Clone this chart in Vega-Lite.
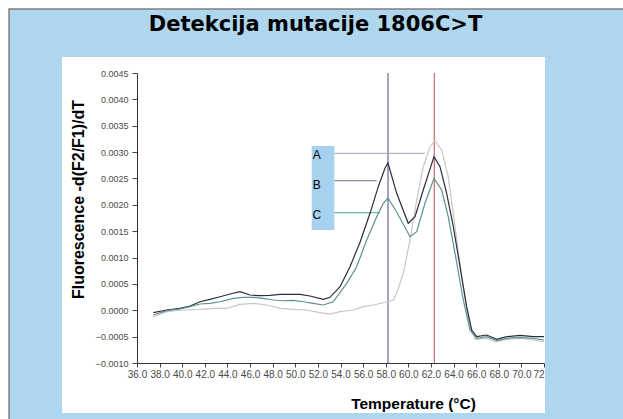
{
  "$schema": "https://vega.github.io/schema/vega-lite/v6.json",
  "width": 407,
  "height": 290,
  "autosize": {"type": "none"},
  "padding": {"left": 137, "top": 73, "right": 79, "bottom": 56},
  "background": "white",
  "title": {"text": "Detekcija mutacije 1806C>T", "font": "DejaVu Sans", "fontSize": 21, "fontWeight": "bold", "color": "black", "anchor": "middle", "frame": "group", "dx": -25, "offset": -27},
  "config": {
    "view": {"stroke": null},
    "axis": {"grid": false, "labelFlush": false, "labelOverlap": false, "labelFont": "Liberation Sans", "labelColor": "#4a4a4a", "tickColor": "#444444", "domainColor": "#333333", "titleFont": "Liberation Sans", "titleFontWeight": "bold", "titleColor": "black", "titleAlign": "center", "titleBaseline": "middle"},
    "axisX": {"labelFontSize": 10, "labelPadding": 2, "tickSize": 4, "titleFontSize": 15.5, "titleX": 276, "titleY": 40},
    "axisY": {"labelFontSize": 9, "labelPadding": 4, "tickSize": 5, "titleFontSize": 16, "titleX": -59, "titleY": 126, "titleAngle": -90}
  },
  "datasets": {
    "curves": [
      {"s":"A","t":37.44,"v":-0.000122},{"s":"A","t":38.63,"v":-0.000027},{"s":"A","t":40.10,"v":0.000005},{"s":"A","t":41.57,"v":0.000018},{"s":"A","t":42.75,"v":0.000037},{"s":"A","t":43.93,"v":0.000037},{"s":"A","t":45.11,"v":0.000113},{"s":"A","t":46.29,"v":0.000132},{"s":"A","t":47.47,"v":0.0001},{"s":"A","t":48.65,"v":0.000037},{"s":"A","t":49.82,"v":0.000018},{"s":"A","t":51.01,"v":0.000005},{"s":"A","t":52.19,"v":-0.000046},{"s":"A","t":53.07,"v":-0.000071},{"s":"A","t":53.96,"v":-0.000027},{"s":"A","t":55.13,"v":0.000005},{"s":"A","t":56.02,"v":0.000068},{"s":"A","t":56.90,"v":0.0001},{"s":"A","t":58.20,"v":0.000162},{"s":"A","t":58.67,"v":0.000195},{"s":"A","t":58.97,"v":0.000322},{"s":"A","t":59.55,"v":0.000701},{"s":"A","t":60.15,"v":0.001333},{"s":"A","t":60.74,"v":0.002091},{"s":"A","t":61.32,"v":0.002723},{"s":"A","t":61.92,"v":0.003102},{"s":"A","t":62.36,"v":0.00321},{"s":"A","t":62.95,"v":0.00304},{"s":"A","t":63.53,"v":0.002533},{"s":"A","t":64.13,"v":0.001585},{"s":"A","t":64.72,"v":0.000637},{"s":"A","t":65.30,"v":-0.000185},{"s":"A","t":65.90,"v":-0.000551},{"s":"A","t":66.93,"v":-0.000532},{"s":"A","t":67.81,"v":-0.000596},{"s":"A","t":68.70,"v":-0.000551},{"s":"A","t":69.88,"v":-0.000532},{"s":"A","t":71.05,"v":-0.000564},{"s":"A","t":72.0,"v":-0.000596},
      {"s":"B","t":37.44,"v":-0.000046},{"s":"B","t":38.63,"v":0.000005},{"s":"B","t":39.80,"v":0.000037},{"s":"B","t":40.69,"v":0.000081},{"s":"B","t":41.57,"v":0.000162},{"s":"B","t":42.46,"v":0.000208},{"s":"B","t":43.34,"v":0.000257},{"s":"B","t":44.23,"v":0.000309},{"s":"B","t":45.11,"v":0.000352},{"s":"B","t":45.99,"v":0.00029},{"s":"B","t":46.88,"v":0.000276},{"s":"B","t":47.76,"v":0.000284},{"s":"B","t":48.65,"v":0.000303},{"s":"B","t":49.53,"v":0.000303},{"s":"B","t":50.42,"v":0.000303},{"s":"B","t":51.30,"v":0.000271},{"s":"B","t":52.48,"v":0.000208},{"s":"B","t":53.07,"v":0.000246},{"s":"B","t":53.96,"v":0.000447},{"s":"B","t":54.84,"v":0.000826},{"s":"B","t":55.72,"v":0.001286},{"s":"B","t":56.61,"v":0.001839},{"s":"B","t":57.34,"v":0.002344},{"s":"B","t":57.93,"v":0.002693},{"s":"B","t":58.20,"v":0.002793},{"s":"B","t":58.97,"v":0.002218},{"s":"B","t":59.99,"v":0.001649},{"s":"B","t":60.59,"v":0.001775},{"s":"B","t":61.32,"v":0.002281},{"s":"B","t":62.27,"v":0.002913},{"s":"B","t":62.80,"v":0.002723},{"s":"B","t":63.39,"v":0.002218},{"s":"B","t":63.98,"v":0.001585},{"s":"B","t":64.57,"v":0.000826},{"s":"B","t":65.16,"v":0.000068},{"s":"B","t":65.60,"v":-0.000374},{"s":"B","t":66.05,"v":-0.000501},{"s":"B","t":66.93,"v":-0.000469},{"s":"B","t":67.81,"v":-0.000551},{"s":"B","t":68.70,"v":-0.000501},{"s":"B","t":69.88,"v":-0.000475},{"s":"B","t":71.05,"v":-0.000501},{"s":"B","t":72.0,"v":-0.000501},
      {"s":"C","t":37.44,"v":-0.00009},{"s":"C","t":38.63,"v":-0.000008},{"s":"C","t":39.80,"v":0.000024},{"s":"C","t":40.69,"v":0.000068},{"s":"C","t":41.57,"v":0.000119},{"s":"C","t":42.46,"v":0.000132},{"s":"C","t":43.34,"v":0.000162},{"s":"C","t":44.52,"v":0.000227},{"s":"C","t":45.40,"v":0.000246},{"s":"C","t":46.29,"v":0.000246},{"s":"C","t":47.17,"v":0.000227},{"s":"C","t":48.06,"v":0.000195},{"s":"C","t":48.94,"v":0.000181},{"s":"C","t":49.82,"v":0.000189},{"s":"C","t":50.71,"v":0.000162},{"s":"C","t":51.59,"v":0.000132},{"s":"C","t":52.48,"v":0.0001},{"s":"C","t":53.36,"v":0.000162},{"s":"C","t":54.55,"v":0.000511},{"s":"C","t":55.43,"v":0.000826},{"s":"C","t":56.32,"v":0.001333},{"s":"C","t":57.20,"v":0.001775},{"s":"C","t":57.79,"v":0.002029},{"s":"C","t":58.20,"v":0.002129},{"s":"C","t":58.97,"v":0.001864},{"s":"C","t":60.15,"v":0.001395},{"s":"C","t":60.74,"v":0.00149},{"s":"C","t":61.47,"v":0.002029},{"s":"C","t":62.27,"v":0.002503},{"s":"C","t":62.95,"v":0.002281},{"s":"C","t":63.53,"v":0.001775},{"s":"C","t":64.13,"v":0.00108},{"s":"C","t":64.86,"v":0.000195},{"s":"C","t":65.45,"v":-0.000374},{"s":"C","t":66.05,"v":-0.000532},{"s":"C","t":66.93,"v":-0.000501},{"s":"C","t":67.81,"v":-0.000577},{"s":"C","t":68.70,"v":-0.000532},{"s":"C","t":69.88,"v":-0.000513},{"s":"C","t":71.05,"v":-0.000532},{"s":"C","t":72.0,"v":-0.000564}
    ],
    "legend": [
      {"s":"A","labelT":51.9,"labelV":0.002945,"lineV":0.002977,"lineEnd":61.47},
      {"s":"B","labelT":51.9,"labelV":0.002376,"lineV":0.002457,"lineEnd":57.2},
      {"s":"C","labelT":51.9,"labelV":0.001807,"lineV":0.00185,"lineEnd":57.49}
    ]
  },
  "layer": [
    {
      "data": {"values": [{}]},
      "mark": {"type": "rect", "fill": "#aed7ef", "stroke": "#7f7f7f", "strokeWidth": 1.5},
      "encoding": {
        "x": {"datum": 24.68, "type": "quantitative", "scale": {"domain": [36, 72], "nice": false, "zero": false}, "axis": {"zindex": 1, "values": [36,38,40,42,44,46,48,50,52,54,56,58,60,62,64,66,68,70,72], "labelExpr": "datum.value == 72 ? '72' : format(datum.value, '.1f')", "labelAlign": {"condition": {"test": "datum.value == 72", "value": "right"}, "value": "center"}, "title": "Temperature (°C)"}},
        "x2": {"datum": 82},
        "y": {"datum": 0.005714, "type": "quantitative", "scale": {"domain": [-0.001, 0.0045], "nice": false, "zero": false}, "axis": {"zindex": 1, "values": [-0.001,-0.0005,0,0.0005,0.001,0.0015,0.002,0.0025,0.003,0.0035,0.004,0.0045], "format": ".4f", "title": "Fluorescence -d(F2/F1)/dT"}},
        "y2": {"datum": -0.003}
      }
    },
    {
      "data": {"values": [{}]},
      "mark": {"type": "rect", "fill": "white"},
      "encoding": {
        "x": {"datum": 29.37, "type": "quantitative", "scale": {"domain": [36, 72], "nice": false, "zero": false}, "axis": {"zindex": 1, "values": [36,38,40,42,44,46,48,50,52,54,56,58,60,62,64,66,68,70,72], "labelExpr": "datum.value == 72 ? '72' : format(datum.value, '.1f')", "labelAlign": {"condition": {"test": "datum.value == 72", "value": "right"}, "value": "center"}, "title": "Temperature (°C)"}},
        "x2": {"datum": 72.09},
        "y": {"datum": 0.004803, "type": "quantitative", "scale": {"domain": [-0.001, 0.0045], "nice": false, "zero": false}, "axis": {"zindex": 1, "values": [-0.001,-0.0005,0,0.0005,0.001,0.0015,0.002,0.0025,0.003,0.0035,0.004,0.0045], "format": ".4f", "title": "Fluorescence -d(F2/F1)/dT"}},
        "y2": {"datum": -0.001948}
      }
    },
    {
      "data": {"values": [{}]},
      "mark": {"type": "rule", "color": "#6f6fae", "strokeWidth": 1.3},
      "encoding": {
        "x": {"datum": 58.2, "type": "quantitative", "scale": {"domain": [36, 72], "nice": false, "zero": false}, "axis": {"zindex": 1, "values": [36,38,40,42,44,46,48,50,52,54,56,58,60,62,64,66,68,70,72], "labelExpr": "datum.value == 72 ? '72' : format(datum.value, '.1f')", "labelAlign": {"condition": {"test": "datum.value == 72", "value": "right"}, "value": "center"}, "title": "Temperature (°C)"}},
        "y": {"datum": 0.0045, "type": "quantitative", "scale": {"domain": [-0.001, 0.0045], "nice": false, "zero": false}, "axis": {"zindex": 1, "values": [-0.001,-0.0005,0,0.0005,0.001,0.0015,0.002,0.0025,0.003,0.0035,0.004,0.0045], "format": ".4f", "title": "Fluorescence -d(F2/F1)/dT"}},
        "y2": {"datum": -0.001}
      }
    },
    {
      "data": {"values": [{}]},
      "mark": {"type": "rule", "color": "#c87a78", "strokeWidth": 1.3},
      "encoding": {
        "x": {"datum": 62.3, "type": "quantitative", "scale": {"domain": [36, 72], "nice": false, "zero": false}, "axis": {"zindex": 1, "values": [36,38,40,42,44,46,48,50,52,54,56,58,60,62,64,66,68,70,72], "labelExpr": "datum.value == 72 ? '72' : format(datum.value, '.1f')", "labelAlign": {"condition": {"test": "datum.value == 72", "value": "right"}, "value": "center"}, "title": "Temperature (°C)"}},
        "y": {"datum": 0.0045, "type": "quantitative", "scale": {"domain": [-0.001, 0.0045], "nice": false, "zero": false}, "axis": {"zindex": 1, "values": [-0.001,-0.0005,0,0.0005,0.001,0.0015,0.002,0.0025,0.003,0.0035,0.004,0.0045], "format": ".4f", "title": "Fluorescence -d(F2/F1)/dT"}},
        "y2": {"datum": -0.001}
      }
    },
    {
      "data": {"name": "legend"},
      "mark": {"type": "rule", "strokeWidth": 1},
      "encoding": {
        "x": {"field": "lineEnd", "type": "quantitative", "scale": {"domain": [36, 72], "nice": false, "zero": false}, "axis": {"zindex": 1, "values": [36,38,40,42,44,46,48,50,52,54,56,58,60,62,64,66,68,70,72], "labelExpr": "datum.value == 72 ? '72' : format(datum.value, '.1f')", "labelAlign": {"condition": {"test": "datum.value == 72", "value": "right"}, "value": "center"}, "title": "Temperature (°C)"}},
        "x2": {"datum": 53.45},
        "y": {"field": "lineV", "type": "quantitative", "scale": {"domain": [-0.001, 0.0045], "nice": false, "zero": false}, "axis": {"zindex": 1, "values": [-0.001,-0.0005,0,0.0005,0.001,0.0015,0.002,0.0025,0.003,0.0035,0.004,0.0045], "format": ".4f", "title": "Fluorescence -d(F2/F1)/dT"}},
        "color": {"field": "s", "type": "nominal", "scale": {"domain": ["A", "B", "C"], "range": ["#a4a6b6", "#6c6c9e", "#4fa6a0"]}, "legend": null}
      }
    },
    {
      "data": {"values": [{}]},
      "mark": {"type": "rect", "fill": "#a6d2f0"},
      "encoding": {
        "x": {"datum": 51.45, "type": "quantitative", "scale": {"domain": [36, 72], "nice": false, "zero": false}, "axis": {"zindex": 1, "values": [36,38,40,42,44,46,48,50,52,54,56,58,60,62,64,66,68,70,72], "labelExpr": "datum.value == 72 ? '72' : format(datum.value, '.1f')", "labelAlign": {"condition": {"test": "datum.value == 72", "value": "right"}, "value": "center"}, "title": "Temperature (°C)"}},
        "x2": {"datum": 53.45},
        "y": {"datum": 0.003115, "type": "quantitative", "scale": {"domain": [-0.001, 0.0045], "nice": false, "zero": false}, "axis": {"zindex": 1, "values": [-0.001,-0.0005,0,0.0005,0.001,0.0015,0.002,0.0025,0.003,0.0035,0.004,0.0045], "format": ".4f", "title": "Fluorescence -d(F2/F1)/dT"}},
        "y2": {"datum": 0.001522}
      }
    },
    {
      "data": {"name": "legend"},
      "mark": {"type": "text", "font": "Liberation Sans", "fontSize": 12, "color": "black", "align": "center", "baseline": "middle"},
      "encoding": {
        "x": {"field": "labelT", "type": "quantitative", "scale": {"domain": [36, 72], "nice": false, "zero": false}, "axis": {"zindex": 1, "values": [36,38,40,42,44,46,48,50,52,54,56,58,60,62,64,66,68,70,72], "labelExpr": "datum.value == 72 ? '72' : format(datum.value, '.1f')", "labelAlign": {"condition": {"test": "datum.value == 72", "value": "right"}, "value": "center"}, "title": "Temperature (°C)"}},
        "y": {"field": "labelV", "type": "quantitative", "scale": {"domain": [-0.001, 0.0045], "nice": false, "zero": false}, "axis": {"zindex": 1, "values": [-0.001,-0.0005,0,0.0005,0.001,0.0015,0.002,0.0025,0.003,0.0035,0.004,0.0045], "format": ".4f", "title": "Fluorescence -d(F2/F1)/dT"}},
        "text": {"field": "s"}
      }
    },
    {
      "data": {"name": "curves"},
      "mark": {"type": "line", "strokeWidth": 1.2, "clip": true},
      "encoding": {
        "x": {"field": "t", "type": "quantitative", "scale": {"domain": [36, 72], "nice": false, "zero": false}, "axis": {"zindex": 1, "values": [36,38,40,42,44,46,48,50,52,54,56,58,60,62,64,66,68,70,72], "labelExpr": "datum.value == 72 ? '72' : format(datum.value, '.1f')", "labelAlign": {"condition": {"test": "datum.value == 72", "value": "right"}, "value": "center"}, "title": "Temperature (°C)"}},
        "y": {"field": "v", "type": "quantitative", "scale": {"domain": [-0.001, 0.0045], "nice": false, "zero": false}, "axis": {"zindex": 1, "values": [-0.001,-0.0005,0,0.0005,0.001,0.0015,0.002,0.0025,0.003,0.0035,0.004,0.0045], "format": ".4f", "title": "Fluorescence -d(F2/F1)/dT"}},
        "color": {"field": "s", "type": "nominal", "scale": {"domain": ["A", "B", "C"], "range": ["#c9c6c4", "#2c2c3c", "#5e9090"]}, "legend": null},
        "order": {"field": "t", "type": "quantitative"}
      }
    }
  ],
  "resolve": {"scale": {"color": "independent"}}
}
